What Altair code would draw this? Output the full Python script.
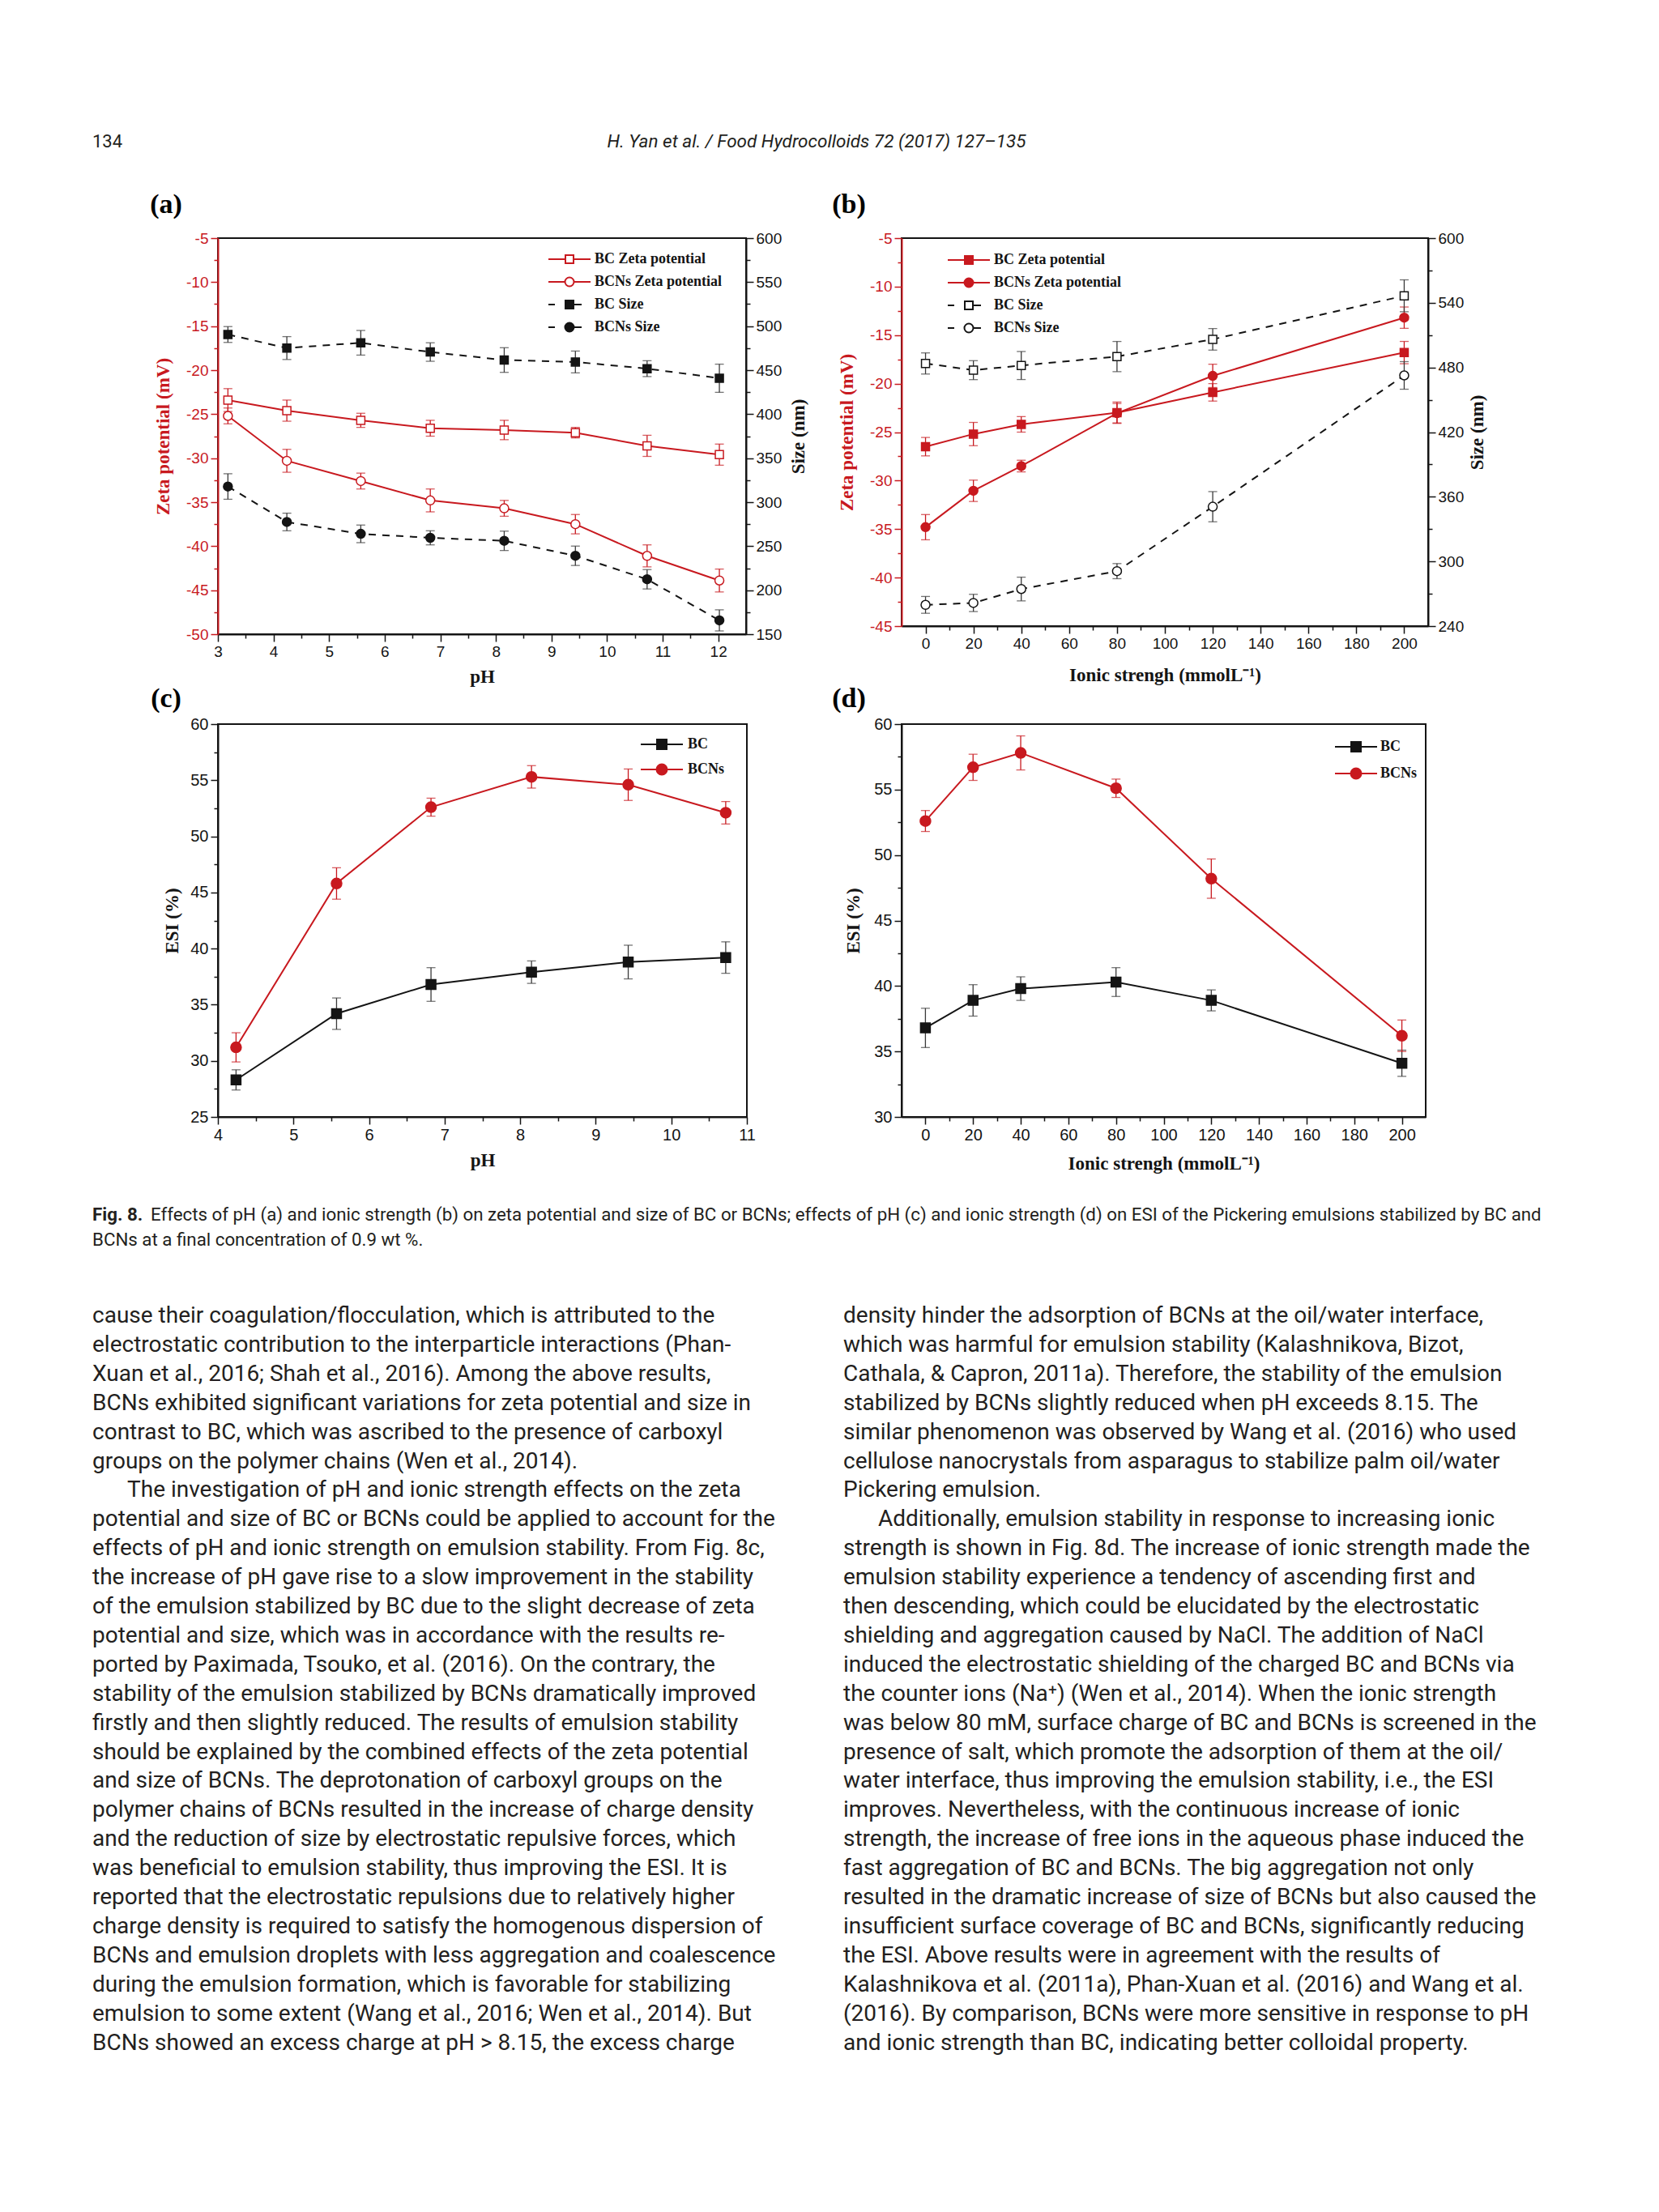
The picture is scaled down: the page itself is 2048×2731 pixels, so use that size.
import altair as alt
import pandas as pd

# ------------------------------------------------------------------ data
# (a) effect of pH on zeta potential and size
A_PH = [3.18, 4.24, 5.57, 6.82, 8.15, 9.43, 10.72, 12.02]
A_BC_ZETA = [-23.4, -24.6, -25.7, -26.6, -26.8, -27.1, -28.6, -29.6]
A_BC_ZETA_ERR = [1.3, 1.2, 0.8, 0.9, 1.1, 0.6, 1.2, 1.2]
A_BCNS_ZETA = [-25.2, -30.3, -32.6, -34.8, -35.7, -37.5, -41.1, -43.9]
A_BCNS_ZETA_ERR = [0.9, 1.3, 0.9, 1.3, 0.9, 1.1, 1.25, 1.3]
A_BC_SIZE = [490.5, 475.1, 481.1, 470.6, 461.5, 459.3, 451.7, 440.8]
A_BC_SIZE_ERR = [9, 13, 14, 10.5, 14, 12.4, 9, 16]
A_BCNS_SIZE = [317.8, 277.5, 264.0, 259.5, 256.1, 239.1, 212.4, 165.7]
A_BCNS_SIZE_ERR = [14.5, 10, 10, 8, 11, 11, 11, 12]

# (b) effect of ionic strength on zeta potential and size
B_IS = [0, 20, 40, 80, 120, 200]
B_BC_ZETA = [-26.5, -25.2, -24.2, -23.0, -20.9, -16.8]
B_BC_ZETA_ERR = [0.95, 1.2, 0.8, 1.1, 0.9, 1.15]
B_BCNS_ZETA = [-34.8, -31.05, -28.5, -23.05, -19.2, -13.2]
B_BCNS_ZETA_ERR = [1.3, 1.1, 0.6, 1.0, 1.2, 1.1]
B_BC_SIZE = [483.7, 477.5, 481.8, 490.1, 506.1, 546.5]
B_BC_SIZE_ERR = [9.8, 8.8, 13, 14, 10, 14.8]
B_BCNS_SIZE = [259.7, 261.5, 274.4, 291.0, 350.8, 472.6]
B_BCNS_SIZE_ERR = [7.8, 8, 11, 7, 14, 12.8]

# (c) ESI vs pH
C_PH = [4.24, 5.57, 6.82, 8.15, 9.43, 10.72]
C_BC = [28.3, 34.2, 36.8, 37.9, 38.8, 39.2]
C_BC_ERR = [0.9, 1.4, 1.5, 1.0, 1.5, 1.4]
C_BCNS = [31.2, 45.8, 52.6, 55.3, 54.6, 52.1]
C_BCNS_ERR = [1.3, 1.4, 0.8, 1.0, 1.4, 1.0]

# (d) ESI vs ionic strength
D_IS = [0, 20, 40, 80, 120, 200]
D_BC = [36.8, 38.9, 39.8, 40.3, 38.9, 34.1]
D_BC_ERR = [1.5, 1.2, 0.9, 1.1, 0.8, 1.0]
D_BCNS = [52.6, 56.7, 57.8, 55.1, 48.2, 36.2]
D_BCNS_ERR = [0.8, 1.0, 1.3, 0.7, 1.5, 1.2]

SERIES_ZS = ["BC Zeta potential", "BCNs Zeta potential", "BC Size", "BCNs Size"]
SERIES_ESI = ["BC", "BCNs"]

# axis ticks
A_X_MAJOR = list(range(3, 13)); A_X_MINOR = [v + 0.5 for v in range(3, 12)]
A_YL_MAJOR = list(range(-50, -4, 5)); A_YL_MINOR = [v + 2.5 for v in range(-50, -5, 5)]
A_YR_MAJOR = list(range(150, 601, 50)); A_YR_MINOR = [v + 25 for v in range(150, 600, 50)]
B_X_MAJOR = list(range(0, 201, 20)); B_X_MINOR = [v + 10 for v in range(0, 200, 20)]
B_YL_MAJOR = list(range(-45, -4, 5)); B_YL_MINOR = [v + 2.5 for v in range(-45, -5, 5)]
B_YR_MAJOR = list(range(240, 601, 60)); B_YR_MINOR = [v + 30 for v in range(240, 600, 60)]
C_X_MAJOR = list(range(4, 12)); C_X_MINOR = [v + 0.5 for v in range(4, 11)]
C_Y_MAJOR = list(range(25, 61, 5)); C_Y_MINOR = [v + 2.5 for v in range(25, 60, 5)]
D_X_MAJOR = B_X_MAJOR; D_X_MINOR = B_X_MINOR
D_Y_MAJOR = list(range(30, 61, 5)); D_Y_MINOR = [v + 2.5 for v in range(30, 60, 5)]

# page text
PANEL_LABELS = ["(a)", "(b)", "(c)", "(d)"]
HEADER_LEFT = "134"
HEADER_CENTER = "H. Yan et al. / Food Hydrocolloids 72 (2017) 127\u2013135"
CAPTION_BOLD = "Fig. 8."
CAPTION_1 = ("Effects of pH (a) and ionic strength (b) on zeta potential and size of BC or BCNs; "
             "effects of pH (c) and ionic strength (d) on ESI of the Pickering emulsions stabilized by BC and")
CAPTION_2 = "BCNs at a final concentration of 0.9 wt %."
LEFT_LINES = [
    "cause their coagulation/flocculation, which is attributed to the",
    "electrostatic contribution to the interparticle interactions (Phan-",
    "Xuan et al., 2016; Shah et al., 2016). Among the above results,",
    "BCNs exhibited significant variations for zeta potential and size in",
    "contrast to BC, which was ascribed to the presence of carboxyl",
    "groups on the polymer chains (Wen et al., 2014).",
    "The investigation of pH and ionic strength effects on the zeta",
    "potential and size of BC or BCNs could be applied to account for the",
    "effects of pH and ionic strength on emulsion stability. From Fig. 8c,",
    "the increase of pH gave rise to a slow improvement in the stability",
    "of the emulsion stabilized by BC due to the slight decrease of zeta",
    "potential and size, which was in accordance with the results re-",
    "ported by Paximada, Tsouko, et al. (2016). On the contrary, the",
    "stability of the emulsion stabilized by BCNs dramatically improved",
    "firstly and then slightly reduced. The results of emulsion stability",
    "should be explained by the combined effects of the zeta potential",
    "and size of BCNs. The deprotonation of carboxyl groups on the",
    "polymer chains of BCNs resulted in the increase of charge density",
    "and the reduction of size by electrostatic repulsive forces, which",
    "was beneficial to emulsion stability, thus improving the ESI. It is",
    "reported that the electrostatic repulsions due to relatively higher",
    "charge density is required to satisfy the homogenous dispersion of",
    "BCNs and emulsion droplets with less aggregation and coalescence",
    "during the emulsion formation, which is favorable for stabilizing",
    "emulsion to some extent (Wang et al., 2016; Wen et al., 2014). But",
    "BCNs showed an excess charge at pH > 8.15, the excess charge",
]
RIGHT_LINES = [
    "density hinder the adsorption of BCNs at the oil/water interface,",
    "which was harmful for emulsion stability (Kalashnikova, Bizot,",
    "Cathala, & Capron, 2011a). Therefore, the stability of the emulsion",
    "stabilized by BCNs slightly reduced when pH exceeds 8.15. The",
    "similar phenomenon was observed by Wang et al. (2016) who used",
    "cellulose nanocrystals from asparagus to stabilize palm oil/water",
    "Pickering emulsion.",
    "Additionally, emulsion stability in response to increasing ionic",
    "strength is shown in Fig. 8d. The increase of ionic strength made the",
    "emulsion stability experience a tendency of ascending first and",
    "then descending, which could be elucidated by the electrostatic",
    "shielding and aggregation caused by NaCl. The addition of NaCl",
    "induced the electrostatic shielding of the charged BC and BCNs via",
    "the counter ions (Na\u207a) (Wen et al., 2014). When the ionic strength",
    "was below 80 mM, surface charge of BC and BCNs is screened in the",
    "presence of salt, which promote the adsorption of them at the oil/",
    "water interface, thus improving the emulsion stability, i.e., the ESI",
    "improves. Nevertheless, with the continuous increase of ionic",
    "strength, the increase of free ions in the aqueous phase induced the",
    "fast aggregation of BC and BCNs. The big aggregation not only",
    "resulted in the dramatic increase of size of BCNs but also caused the",
    "insufficient surface coverage of BC and BCNs, significantly reducing",
    "the ESI. Above results were in agreement with the results of",
    "Kalashnikova et al. (2011a), Phan-Xuan et al. (2016) and Wang et al.",
    "(2016). By comparison, BCNs were more sensitive in response to pH",
    "and ionic strength than BC, indicating better colloidal property.",
]
# lines that open a new (indented) paragraph: (column, line)
PARAGRAPH_STARTS = [(0, 6), (1, 7)]

# ------------------------------------------------------------------ styles
RED = "#c8191f"
BLACK = "#141414"
ERR_BLACK = "#3a3a3a"
TEXT_COLOR = "#231f20"
TICK_FONT = "Liberation Sans"
SERIF = "Liberation Serif"
SANS = "Roboto"

R = 7.0  # legend symbol unit (sqrt(196)/2)


def _n(v):
    return format(round(v / R, 3), "g")


def sq(half):
    h = _n(half)
    return f"M-{h},-{h}H{h}V{h}H-{h}Z"


def circ(rad):
    r = _n(rad)
    return f"M{r},0A{r},{r} 0 1,1 -{r},0A{r},{r} 0 1,1 {r},0Z"


def solid_gap(gap):
    return f"M{_n(-26)},0H{_n(-gap)}M{_n(gap)},0H{_n(26)}"


SOLID = f"M{_n(-26)},0H{_n(26)}"
DASHED = f"M{_n(-26)},0H{_n(-18)}M{_n(6)},0H{_n(15)}"


def series_frame(x, names, values, errors):
    rows = []
    for name, vals, errs in zip(names, values, errors):
        for xi, v, e in zip(x, vals, errs):
            rows.append({"x": xi, "v": v, "lo": round(v - e, 3), "hi": round(v + e, 3), "series": name})
    return pd.DataFrame(rows)


def num_list(vals):
    return "[" + ",".join(format(v, "g") for v in vals) + "]"


def make_axis(major, minor, orient, color, title, title_pad, label_size,
              title_angle=None, title_baseline=None):
    test = f"indexof({num_list(minor)}, datum.value) >= 0"
    kw = dict(values=sorted(major + minor), orient=orient, grid=False,
              labelExpr=f"{test} ? '' : toString(datum.value)",
              labelFlush=False, labelOverlap=False,
              tickSize={"condition": {"test": test, "value": 5}, "value": 9},
              tickColor=color, tickWidth=1.5, domainColor=color, domainWidth=2,
              labelColor=color, labelFont=TICK_FONT, labelFontSize=label_size, labelPadding=3,
              title=title, titleColor=color, titleFont=SERIF, titleFontSize=23,
              titleFontWeight="bold", titlePadding=title_pad)
    if title_angle is not None:
        kw["titleAngle"] = title_angle
    if title_baseline is not None:
        kw["titleBaseline"] = title_baseline
    return alt.Axis(**kw)


def enc_factory(channel, dom, axis):
    def f(field):
        return channel(f"{field}:Q", scale=alt.Scale(domain=dom, nice=False, zero=False), axis=axis)
    return f


def measure_group(df, names, styles, X, Y, line_color, dashed, err_color, msize, legend_layer=None):
    sub = df[df.series.isin(names)]
    base = alt.Chart(sub)
    line_kw = dict(color=line_color, strokeWidth=2)
    if dashed:
        line_kw["strokeDash"] = [9, 8]
    line = base.mark_line(**line_kw).encode(x=X("x"), y=Y("v"), detail="series:N")
    rule = base.mark_rule(color=err_color, strokeWidth=1.3).encode(x=X("x"), y=Y("lo"), y2="hi:Q")
    caps = base.transform_fold(["lo", "hi"], as_=["end", "ev"]).mark_tick(
        orient="horizontal", color=err_color, size=11, thickness=1.3).encode(x=X("x"), y=Y("ev"))
    layers = [line, rule, caps]
    for name in names:
        shape, fill, stroke = styles[name]
        size = msize[shape]
        layers.append(
            base.transform_filter(alt.datum.series == name).mark_point(
                shape=shape, size=size, filled=True, fill=fill, stroke=stroke,
                strokeWidth=1.5, opacity=1).encode(x=X("x"), y=Y("v")))
    if legend_layer is not None:
        layers.append(legend_layer)
    return alt.layer(*layers)


def legend_layer(df, names, paths, fills, strokes, lx, ly, row_pad, label_offset):
    lg = alt.Legend(title=None, orient="none", legendX=lx, legendY=ly, symbolSize=196,
                    symbolStrokeWidth=2, labelFont=SERIF, labelFontWeight="bold",
                    labelFontSize=18, labelColor=BLACK, labelLimit=400,
                    rowPadding=row_pad, labelOffset=label_offset, padding=0)
    return alt.Chart(df).transform_filter("false").mark_point(filled=True, opacity=1).encode(
        shape=alt.Shape("series:N", scale=alt.Scale(domain=names, range=paths), legend=lg),
        fill=alt.Fill("series:N", scale=alt.Scale(domain=names, range=fills), legend=lg),
        stroke=alt.Stroke("series:N", scale=alt.Scale(domain=names, range=strokes), legend=lg),
    )


MS_AB = {"square": 100, "circle": 121}
MS_CD = {"square": 144, "circle": 169}

# ------------------------------------------------------------------ panel (a)
df_a = series_frame(A_PH, SERIES_ZS,
                    [A_BC_ZETA, A_BCNS_ZETA, A_BC_SIZE, A_BCNS_SIZE],
                    [A_BC_ZETA_ERR, A_BCNS_ZETA_ERR, A_BC_SIZE_ERR, A_BCNS_SIZE_ERR])
ax_a_x = make_axis(A_X_MAJOR, A_X_MINOR, "bottom", BLACK, "pH", 10, 19)
ax_a_yl = make_axis(A_YL_MAJOR, A_YL_MINOR, "left", RED, "Zeta potential (mV)", 16, 19)
ax_a_yr = make_axis(A_YR_MAJOR, A_YR_MINOR, "right", BLACK, "Size (nm)", 10, 19, 270, "top")
Xa = enc_factory(alt.X, [3, 12.5], ax_a_x)
Ya_l = enc_factory(alt.Y, [-50, -5], ax_a_yl)
Ya_r = enc_factory(alt.Y, [150, 600], ax_a_yr)
styles_a = {
    "BC Zeta potential": ("square", "white", RED),
    "BCNs Zeta potential": ("circle", "white", RED),
    "BC Size": ("square", BLACK, BLACK),
    "BCNs Size": ("circle", BLACK, BLACK),
}
leg_a = legend_layer(df_a, SERIES_ZS,
                     [solid_gap(5) + sq(5), solid_gap(5.5) + circ(5.5), DASHED + sq(5), DASHED + circ(5.5)],
                     ["white", "white", BLACK, BLACK], [RED, RED, BLACK, BLACK],
                     425, 17, 9, 22)
zeta_a = measure_group(df_a, SERIES_ZS[:2], styles_a, Xa, Ya_l, RED, False, RED, MS_AB, leg_a)
size_a = measure_group(df_a, SERIES_ZS[2:], styles_a, Xa, Ya_r, BLACK, True, ERR_BLACK, MS_AB)
panel_a = alt.layer(zeta_a, size_a).resolve_scale(y="independent").properties(width=652, height=489)

# ------------------------------------------------------------------ panel (b)
df_b = series_frame(B_IS, SERIES_ZS,
                    [B_BC_ZETA, B_BCNS_ZETA, B_BC_SIZE, B_BCNS_SIZE],
                    [B_BC_ZETA_ERR, B_BCNS_ZETA_ERR, B_BC_SIZE_ERR, B_BCNS_SIZE_ERR])
ax_b_x = make_axis(B_X_MAJOR, B_X_MINOR, "bottom", BLACK, "Ionic strengh (mmolL\u207b\u00b9)", 18, 19)
ax_b_yl = make_axis(B_YL_MAJOR, B_YL_MINOR, "left", RED, "Zeta potential (mV)", 16, 19)
ax_b_yr = make_axis(B_YR_MAJOR, B_YR_MINOR, "right", BLACK, "Size (nm)", 6, 19, 270, "top")
Xb = enc_factory(alt.X, [-10, 210], ax_b_x)
Yb_l = enc_factory(alt.Y, [-45, -5], ax_b_yl)
Yb_r = enc_factory(alt.Y, [240, 600], ax_b_yr)
styles_b = {
    "BC Zeta potential": ("square", RED, RED),
    "BCNs Zeta potential": ("circle", RED, RED),
    "BC Size": ("square", "white", BLACK),
    "BCNs Size": ("circle", "white", BLACK),
}
leg_b = legend_layer(df_b, SERIES_ZS,
                     [SOLID + sq(5), SOLID + circ(5.5), DASHED + sq(5), DASHED + circ(5.5)],
                     [RED, RED, "white", "white"], [RED, RED, BLACK, BLACK],
                     74, 18, 9, 22)
zeta_b = measure_group(df_b, SERIES_ZS[:2], styles_b, Xb, Yb_l, RED, False, RED, MS_AB, leg_b)
size_b = measure_group(df_b, SERIES_ZS[2:], styles_b, Xb, Yb_r, BLACK, True, ERR_BLACK, MS_AB)
panel_b = alt.layer(zeta_b, size_b).resolve_scale(y="independent").properties(width=650, height=479)

# ------------------------------------------------------------------ panel (c)
df_c = series_frame(C_PH, SERIES_ESI, [C_BC, C_BCNS], [C_BC_ERR, C_BCNS_ERR])
ax_c_x = make_axis(C_X_MAJOR, C_X_MINOR, "bottom", BLACK, "pH", 10, 20)
ax_c_y = make_axis(C_Y_MAJOR, C_Y_MINOR, "left", BLACK, "ESI (%)", 10, 20)
Xc = enc_factory(alt.X, [4, 11], ax_c_x)
Yc = enc_factory(alt.Y, [25, 60], ax_c_y)
styles_cd = {"BC": ("square", BLACK, BLACK), "BCNs": ("circle", RED, RED)}
leg_c = legend_layer(df_c, SERIES_ESI, [SOLID + sq(6), SOLID + circ(6.5)],
                     [BLACK, RED], [BLACK, RED], 539, 16, 10, 23)
bc_c = measure_group(df_c, ["BC"], styles_cd, Xc, Yc, BLACK, False, ERR_BLACK, MS_CD)
bcns_c = measure_group(df_c, ["BCNs"], styles_cd, Xc, Yc, RED, False, RED, MS_CD, leg_c)
plot_c = alt.layer(bc_c, bcns_c)


# page text drawn in panel (c)'s frame of reference
def text_layer(df, xr, yr, size, ymax, weight="normal", style="normal",
               align="left", dx=0, font=SANS, color=TEXT_COLOR):
    return alt.Chart(df).mark_text(
        align=align, baseline="middle", font=font, fontSize=size, fontWeight=weight,
        fontStyle=style, color=color, dx=dx).encode(
        x=alt.X("c:Q", scale=alt.Scale(domain=[0, 1], range=xr, nice=False, zero=False), axis=None),
        y=alt.Y("l:Q", scale=alt.Scale(domain=[0, ymax], range=yr, nice=False, zero=False), axis=None),
        text="t:N")


def tdf(texts, cols, lines):
    return pd.DataFrame({"t": texts, "c": cols, "l": lines})


BODY_Y0 = 731
BODY_STEP = 35.9
BODY_SIZE = 28
n_body = len(LEFT_LINES)
BODY_XR = [-155, 772]
BODY_YR = [BODY_Y0, BODY_Y0 + (n_body - 1) * BODY_STEP]

body = tdf(LEFT_LINES + RIGHT_LINES, [0] * n_body + [1] * n_body, list(range(n_body)) * 2)
is_par = body.apply(lambda r: (int(r.c), int(r.l)) in PARAGRAPH_STARTS, axis=1)
body_plain = body[~is_par]
body_indent = body[is_par]

TX = [-155, 739]
texts = alt.layer(
    text_layer(tdf(PANEL_LABELS, [0, 1, 0, 1], [0, 0, 1, 1]), [-64, 779], [-641, -31], 34, 1,
               weight="bold", align="center", font=SERIF, color="black"),
    text_layer(tdf([HEADER_LEFT], [0], [0]), TX, [-719, -718], 22, 1),
    text_layer(tdf([HEADER_CENTER], [1], [0]), TX, [-719, -718], 22.5, 1, style="italic", align="center"),
    text_layer(tdf([CAPTION_BOLD], [0], [0]), TX, [606, 637], 22.3, 1, weight="bold"),
    text_layer(tdf([CAPTION_1], [0], [0]), TX, [606, 637], 22.3, 1, dx=72),
    text_layer(tdf([CAPTION_2], [0], [1]), TX, [606, 637], 22.3, 1),
    text_layer(body_plain, BODY_XR, BODY_YR, BODY_SIZE, n_body - 1),
    text_layer(body_indent, BODY_XR, BODY_YR, BODY_SIZE, n_body - 1, dx=43),
).resolve_scale(x="independent", y="independent")

panel_c = alt.layer(plot_c, texts).resolve_scale(x="independent", y="independent").properties(
    width=653, height=485)

# ------------------------------------------------------------------ panel (d)
df_d = series_frame(D_IS, SERIES_ESI, [D_BC, D_BCNS], [D_BC_ERR, D_BCNS_ERR])
ax_d_x = make_axis(D_X_MAJOR, D_X_MINOR, "bottom", BLACK, "Ionic strengh (mmolL\u207b\u00b9)", 14, 20)
ax_d_y = make_axis(D_Y_MAJOR, D_Y_MINOR, "left", BLACK, "ESI (%)", 13, 20)
Xd = enc_factory(alt.X, [-10, 210], ax_d_x)
Yd = enc_factory(alt.Y, [30, 60], ax_d_y)
leg_d = legend_layer(df_d, SERIES_ESI, [SOLID + sq(6), SOLID + circ(6.5)],
                     [BLACK, RED], [BLACK, RED], 552, 19, 12, 21)
bc_d = measure_group(df_d, ["BC"], styles_cd, Xd, Yd, BLACK, False, ERR_BLACK, MS_CD)
bcns_d = measure_group(df_d, ["BCNs"], styles_cd, Xd, Yd, RED, False, RED, MS_CD, leg_d)
panel_d = alt.layer(bc_d, bcns_d).properties(width=647, height=485)

# ------------------------------------------------------------------ page
chart = alt.concat(panel_a, panel_b, panel_c, panel_d, columns=2).resolve_scale(
    shape="independent", fill="independent", stroke="independent"
).properties(
    spacing={"row": 111, "column": 191}, bounds="flush",
    padding={"left": 105, "top": 155, "right": 10, "bottom": 10},
    background="white",
).configure_view(stroke=BLACK, strokeWidth=2)

chart.save("out.html", embed_options={"renderer": "svg", "actions": False})
